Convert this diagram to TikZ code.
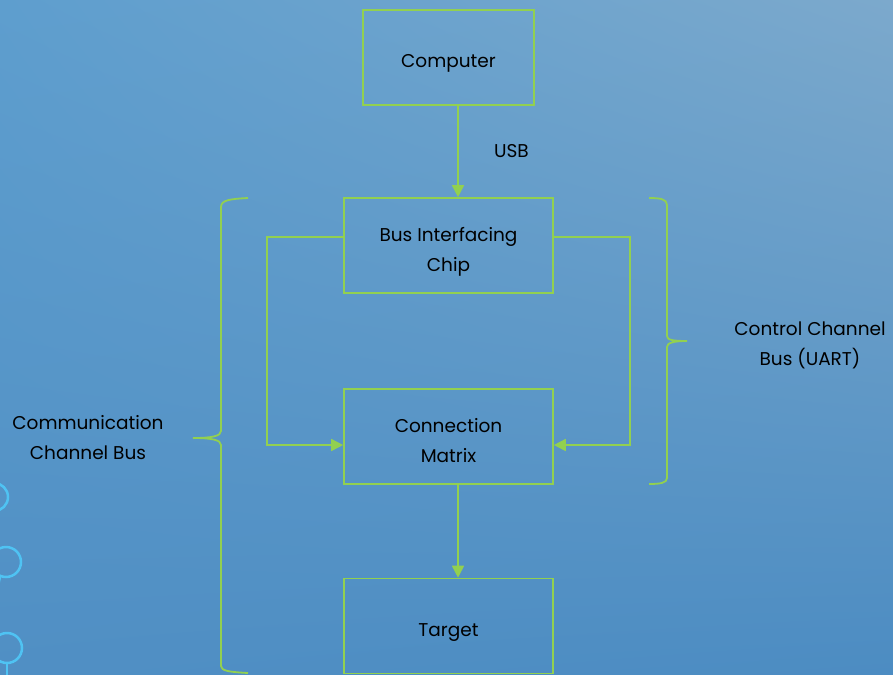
\documentclass[tikz,border=0pt]{standalone}
\usepackage{fontspec}
\setmainfont{Poppins}
\usetikzlibrary{arrows.meta,shadings}

\definecolor{slidegreen}{HTML}{92D050}
\definecolor{ringblue}{HTML}{4FC3F3}
\definecolor{bgtl}{RGB}{94,158,206}
\definecolor{bgtr}{RGB}{124,169,204}
\definecolor{bgbl}{RGB}{80,143,196}
\definecolor{bgbr}{RGB}{76,140,194}

\tikzset{
  block/.style={draw=slidegreen, line width=1.6pt, minimum width=209pt, minimum height=95pt,
                align=center, font=\fontsize{18.5}{30}\selectfont, text=black,
                text height=21pt, text depth=0pt},
  twoline/.style={text height=51pt, text depth=0pt},
  link/.style={draw=slidegreen, line width=1.6pt, -{Triangle[width=12pt,length=12pt]}},
  brace/.style={draw=slidegreen, line width=1.8pt},
  tag/.style={align=center, font=\fontsize{18.5}{30}\selectfont, text=black},
  ring/.style={draw=ringblue, line width=2.5pt}
}

\begin{document}
\begin{tikzpicture}[x=1pt,y=-1pt]
\useasboundingbox (0,0) rectangle (893,674);
\shade [upper left=bgtl, upper right=bgtr, lower left=bgbl, lower right=bgbr]
        (0,0) rectangle (893,674);

% theme rings on the left edge
\draw [ring] (-6,497) circle (14);
\draw [ring] (6,562) circle (15);
\draw [ring] (0,577) -- (-3,590);
\draw [ring] (7,648) circle (15);
\draw [ring] (7,663) -- (7,680);

\node [block, minimum width=171pt] (comp) at (448.5,57.5) {Computer};
\node [block, twoline] (bic) at (448.5,245.5) {Bus Interfacing\\Chip};
\node [block, twoline] (cmatrix) at (448.5,436.5) {Connection\\Matrix};
\node [block] (target) at (448.5,626) {Target};

\draw [link] ([xshift=9.5pt]comp.south) -- ([xshift=9.5pt]bic.north) node [tag, midway, right=32pt] {USB};
\draw [link] ([xshift=9.5pt]cmatrix.south) -- ([xshift=9.5pt]target.north);

\draw [link] ([yshift=8.5pt]bic.west) -- ++(-76,0) |- ([yshift=-8.5pt]cmatrix.west);
\draw [link] ([yshift=8.5pt]bic.east) -- ++(76,0) |- ([yshift=-8.5pt]cmatrix.east);

% braces
\draw [brace] (248,198) .. controls (230,199) and (221,200) .. (221,207) -- (221,431)
      .. controls (221,436) and (212,438) .. (193,438)
      .. controls (212,438) and (221,440) .. (221,445) -- (221,666)
      .. controls (221,671) and (230,672) .. (248,673);
\draw [brace] (649,198) .. controls (660,198) and (667,199) .. (667,205) -- (667,336)
      .. controls (667,340) and (673,341) .. (687,341)
      .. controls (673,341) and (667,343) .. (667,347) -- (667,478)
      .. controls (667,483) and (660,484) .. (649,484);

\node [tag] (comm) at (88,438) {Communication\\Channel Bus};
\node [tag] (ctrl) at (810,345) {Control Channel\\Bus (UART)};
\end{tikzpicture}
\end{document}
